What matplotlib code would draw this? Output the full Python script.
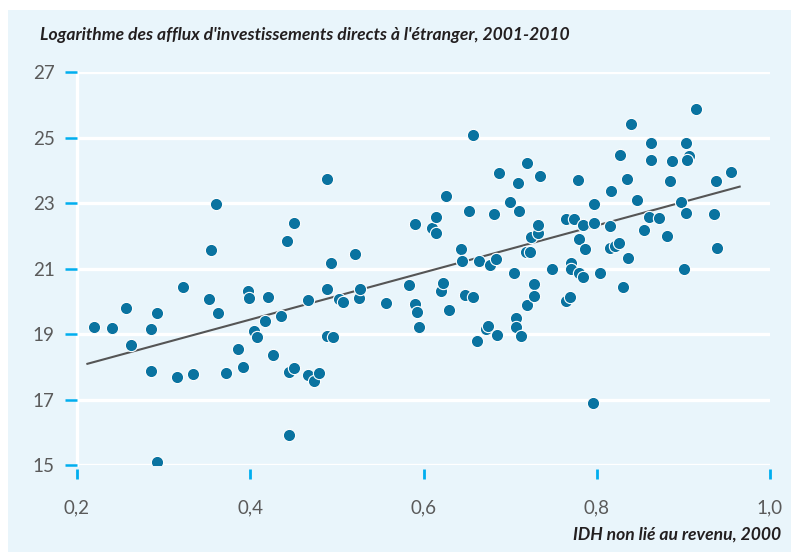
import matplotlib
matplotlib.use("Agg")
import matplotlib.pyplot as plt
from matplotlib.patches import Rectangle
from matplotlib.ticker import FuncFormatter

# IDH non lié au revenu (2000) et log des afflux d'IDE (2001-2010)
idh = [0.220, 0.240, 0.256, 0.262, 0.286, 0.286, 0.292, 0.292, 0.315, 0.322,
       0.334, 0.352, 0.355, 0.360, 0.363, 0.372, 0.386, 0.392, 0.397, 0.398,
       0.404, 0.408, 0.417, 0.420, 0.426, 0.436, 0.442, 0.445, 0.445, 0.450,
       0.450, 0.467, 0.467, 0.474, 0.479, 0.489, 0.489, 0.489, 0.496, 0.493,
       0.502, 0.507, 0.521, 0.525, 0.527, 0.557, 0.583, 0.590, 0.590, 0.593,
       0.595, 0.610, 0.615, 0.614, 0.620, 0.622, 0.626, 0.630, 0.643, 0.645,
       0.648, 0.653, 0.657, 0.657, 0.662, 0.664, 0.672, 0.675, 0.677, 0.681,
       0.684, 0.685, 0.687, 0.700, 0.704, 0.707, 0.707, 0.709, 0.710, 0.712,
       0.718, 0.723, 0.719, 0.720, 0.724, 0.727, 0.728, 0.732, 0.732, 0.734,
       0.748, 0.764, 0.774, 0.764, 0.769, 0.770, 0.770, 0.778, 0.779, 0.780,
       0.784, 0.784, 0.787, 0.796, 0.797, 0.797, 0.804, 0.815, 0.815, 0.817,
       0.821, 0.826, 0.827, 0.830, 0.835, 0.836, 0.840, 0.847, 0.854, 0.860,
       0.863, 0.863, 0.872, 0.881, 0.885, 0.887, 0.897, 0.901, 0.903, 0.903,
       0.906, 0.904, 0.915, 0.935, 0.938, 0.939, 0.955]
log_ide = [19.22, 19.17, 19.79, 18.67, 19.14, 17.86, 19.65, 15.08, 17.69, 20.44,
           17.77, 20.06, 21.57, 22.96, 19.63, 17.80, 18.53, 18.00, 20.32, 20.09,
           19.10, 18.92, 19.41, 20.14, 18.35, 19.54, 21.85, 17.83, 15.91, 22.40,
           17.97, 20.04, 17.74, 17.56, 17.80, 23.72, 20.37, 18.94, 18.90, 21.18,
           20.07, 19.99, 21.45, 20.11, 20.36, 19.95, 20.49, 22.36, 19.92, 19.66,
           19.21, 22.23, 22.09, 22.58, 20.31, 20.55, 23.21, 19.73, 21.60, 21.22,
           20.19, 22.76, 25.08, 20.14, 18.78, 21.22, 19.14, 19.24, 21.12, 22.65,
           21.30, 18.97, 23.91, 23.03, 20.85, 19.49, 19.20, 23.60, 22.76, 18.95,
           21.49, 21.49, 19.89, 24.23, 21.97, 20.53, 20.16, 22.09, 22.33, 23.83,
           20.98, 22.52, 22.52, 20.02, 20.12, 21.18, 20.99, 23.70, 21.90, 20.87,
           20.73, 22.32, 21.59, 16.88, 22.97, 22.39, 20.87, 22.31, 21.62, 23.38,
           21.69, 21.79, 24.46, 20.44, 23.73, 21.33, 25.41, 23.09, 22.18, 22.56,
           24.83, 24.32, 22.55, 21.99, 23.68, 24.29, 23.02, 20.99, 24.84, 22.69,
           24.44, 24.30, 25.86, 22.65, 23.66, 21.63, 23.96]

# droite de régression (extrémités)
fit_x = [0.212, 0.965]
fit_y = [18.09, 23.50]

x_ticks = [0.2, 0.4, 0.6, 0.8, 1.0]
y_ticks = [15, 17, 19, 21, 23, 25, 27]

bg = '#e9f5fb'
dot = '#0a73a0'
tick_blue = '#00aeef'

plt.rcParams['font.family'] = ['Lato', 'DejaVu Sans']

fig = plt.figure(figsize=(7.91, 5.52), dpi=100)
fig.patches.append(Rectangle((8 / 791, 0), 1, 1 - 10 / 552, transform=fig.transFigure,
                             facecolor=bg, edgecolor='none', zorder=-5))

ax = fig.add_axes([77 / 791, 1 - 465 / 552, 693 / 791, 393 / 552])
ax.set_facecolor(bg)
ax.set_xlim(0.2, 1.0)
ax.set_ylim(15, 27)

for y in y_ticks:
    ax.axhline(y, color='white', lw=2.4, zorder=1)
ax.spines['left'].set_color('white')
ax.spines['left'].set_linewidth(2.4)
ax.spines['left'].set_zorder(1)
for s in ['top', 'right', 'bottom']:
    ax.spines[s].set_visible(False)
ax.spines['bottom'].set_position(('outward', 3))

ax.plot(fit_x, fit_y, color='#555555', lw=1.5, zorder=2)
ax.scatter(idh, log_ide, s=78, color=dot, edgecolors='white', linewidths=0.8, zorder=3)

ax.set_xticks(x_ticks)
ax.set_yticks(y_ticks)
fmt = FuncFormatter(lambda v, p: f"{v:.1f}".replace('.', ','))
ax.xaxis.set_major_formatter(fmt)
ax.tick_params(axis='y', length=9, width=1.8, color=tick_blue, pad=7,
               labelsize=13.5, labelcolor='#5a5a5a')
ax.tick_params(axis='x', length=7, width=2, color=tick_blue, pad=15,
               labelsize=13.5, labelcolor='#5a5a5a')

fig.text(40 / 791, 1 - 35 / 552, "Logarithme des afflux d'investissements directs à l'étranger, 2001-2010",
         fontsize=12.6, fontweight='bold', fontstyle='italic', color='#231f20', va='center', ha='left')
fig.text(781 / 791, 1 - 535 / 552, "IDH non lié au revenu, 2000",
         fontsize=12.6, fontweight='bold', fontstyle='italic', color='#231f20', va='center', ha='right')

fig.savefig('out.png', dpi=100)
